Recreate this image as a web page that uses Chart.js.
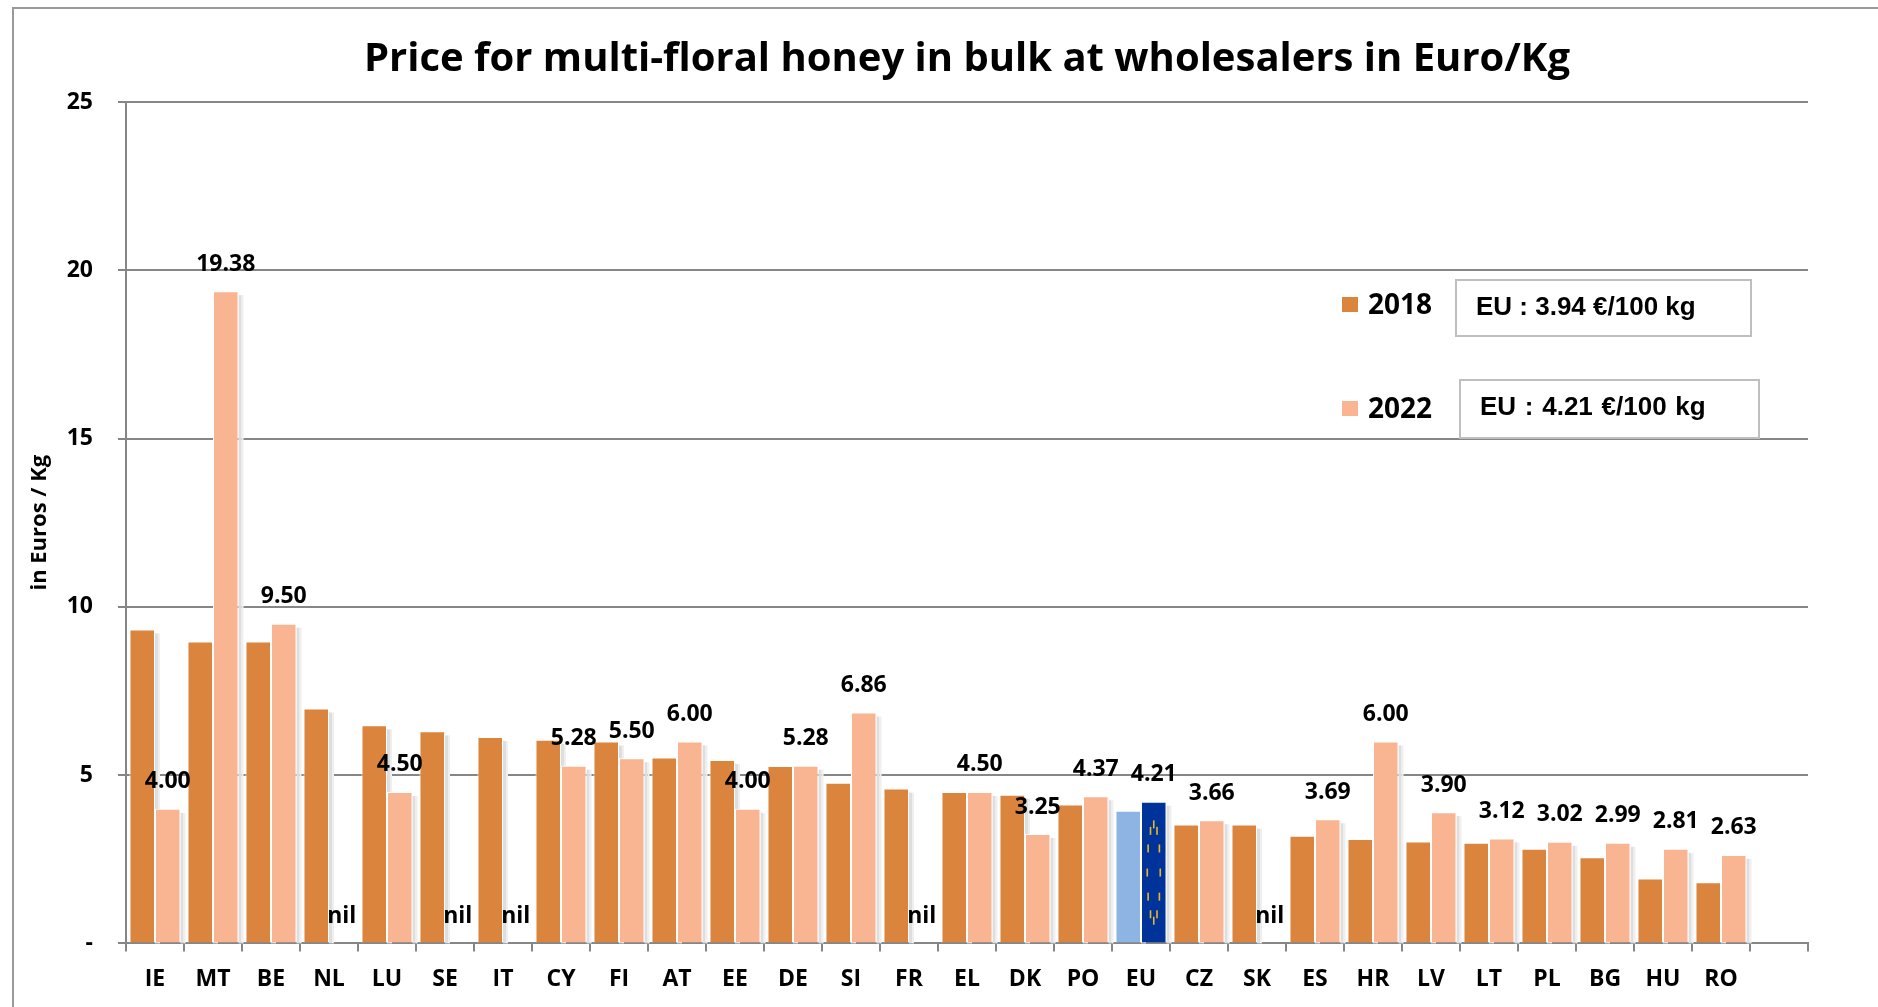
<!DOCTYPE html>
<html>
<head>
<meta charset="utf-8">
<title>Honey prices</title>
<script src="https://cdn.jsdelivr.net/npm/chart.js@4"></script>
<style>
    html, body { margin: 0; padding: 0; background: #fff; }
    #wrap { position: relative; width: 1878px; height: 1007px; overflow: hidden; }
    #frame { position: absolute; left: 12px; top: 7px; width: 1880px; height: 1020px; border: 2px solid #9a9a9a; }
    canvas { position: absolute; left: 0; top: 0; }
    .key { position: absolute; font: bold 28px "Open Sans", sans-serif; color: #000; line-height: 32px; }
    .swatch { position: absolute; width: 16px; height: 15px; }
    .box { position: absolute; box-sizing: border-box; background: #fff; border: 2px solid #bfbfbf;
           font: bold 26px "Liberation Sans", sans-serif; color: #000; white-space: pre; }
</style>
</head>
<body>
<div id="wrap">
    <div id="frame"></div>
    <canvas id="honeyChart" width="1878" height="1007"></canvas>
    <div class="swatch" id="swatch2018" style="left:1342px;top:297px"></div>
    <div class="key" style="left:1368px;top:287px">2018</div>
    <div class="box" style="left:1455px;top:279px;width:297px;height:58px;padding:10px 0 0 19px">EU : 3.94 €/100 kg</div>
    <div class="swatch" id="swatch2022" style="left:1342px;top:401px"></div>
    <div class="key" style="left:1368px;top:391px">2022</div>
    <div class="box" style="left:1459px;top:379px;width:301px;height:60px;padding:10px 0 0 19px;word-spacing:1.5px">EU : 4.21 €/100 kg</div>
</div>
<script>
// Values
const countries = ['IE', 'MT', 'BE', 'NL', 'LU', 'SE', 'IT', 'CY', 'FI', 'AT', 'EE', 'DE', 'SI', 'FR',
    'EL', 'DK', 'PO', 'EU', 'CZ', 'SK', 'ES', 'HR', 'LV', 'LT', 'PL', 'BG', 'HU', 'RO', ''];
const prices2018 = [9.33, 8.97, 8.97, 6.98, 6.48, 6.30, 6.13, 6.05, 6.00, 5.52, 5.45, 5.27, 4.77, 4.60,
    4.50, 4.42, 4.13, 3.94, 3.53, 3.53, 3.20, 3.10, 3.03, 2.99, 2.81, 2.56, 1.93, 1.82, null];
const prices2022 = [4.00, 19.38, 9.50, null, 4.50, null, null, 5.28, 5.50, 6.00, 4.00, 5.28, 6.86, null,
    4.50, 3.25, 4.37, 4.21, 3.66, null, 3.69, 6.00, 3.90, 3.12, 3.02, 2.99, 2.81, 2.63, null];
const yTicks = [0, 5, 10, 15, 20, 25];

const color2018 = '#DB843D';
const color2022 = '#F9B591';
const colorEu2018 = '#8EB4E3';
const colorEu2022 = '#003399';
const lineGrey = '#868686';
const euIndex = countries.indexOf('EU');
const labelFont = '"Open Sans", sans-serif';

document.getElementById('swatch2018').style.background = color2018;
document.getElementById('swatch2022').style.background = color2022;

// Pale grey strip to the right of every bar, painted under the bars
const barShadow = {
    id: 'barShadow',
    beforeDatasetsDraw(chart) {
        const ctx = chart.ctx;
        const base = chart.scales.y.getPixelForValue(0);
        ctx.save();
        [0, 1].forEach(d => {
            chart.getDatasetMeta(d).data.forEach((bar, i) => {
                const v = d === 0 ? prices2018[i] : prices2022[i];
                if (v === null) return;
                const right = bar.x + bar.width / 2;
                const top = bar.y + 4;
                ctx.fillStyle = '#dedede';
                ctx.fillRect(right, top, 3, base - top);
                ctx.fillStyle = '#efefef';
                ctx.fillRect(right + 3, top, 2, base - top);
            });
        });
        ctx.restore();
    }
};

// EU flag stars on the 2022 EU bar and the value labels above the 2022 bars
const barExtras = {
    id: 'barExtras',
    afterDatasetsDraw(chart) {
        const ctx = chart.ctx;
        const y = chart.scales.y;
        const bars = chart.getDatasetMeta(1).data;

        const eu = bars[euIndex];
        const cx = eu.x;
        const top = eu.y;
        const bottom = y.getPixelForValue(0);
        const cy = (top + bottom) / 2;
        ctx.save();
        ctx.fillStyle = '#E8B923';
        for (let i = 0; i < 12; i++) {
            const a = i * Math.PI / 6;
            const sx = cx + Math.sin(a) * 6.5;
            const sy = cy - Math.cos(a) * (bottom - top) * 0.34;
            ctx.fillRect(sx - 0.8, sy - 4, 1.6, 8);
        }
        ctx.restore();

        ctx.save();
        ctx.font = 'bold 23px ' + labelFont;
        ctx.fillStyle = '#000';
        ctx.textAlign = 'center';
        ctx.textBaseline = 'middle';
        prices2022.forEach((v, i) => {
            if (!countries[i]) return;
            const text = v === null ? 'nil' : v.toFixed(2);
            ctx.fillText(text, bars[i].x, y.getPixelForValue(v === null ? 0 : v) - 27);
        });
        ctx.restore();
    }
};

new Chart(document.getElementById('honeyChart').getContext('2d'), {
    type: 'bar',
    data: {
        labels: countries,
        datasets: [{
            label: '2018',
            data: prices2018,
            backgroundColor: countries.map((c, i) => i === euIndex ? colorEu2018 : color2018),
            borderColor: '#fff',
            borderWidth: 1
        }, {
            label: '2022',
            data: prices2022,
            backgroundColor: countries.map((c, i) => i === euIndex ? colorEu2022 : color2022),
            borderColor: '#fff',
            borderWidth: 1
        }]
    },
    options: {
        responsive: false,
        animation: false,
        categoryPercentage: 0.88,
        barPercentage: 1,
        layout: { padding: { left: 27, right: 70, top: 0, bottom: 0 } },
        plugins: {
            legend: { display: false },
            tooltip: { enabled: false },
            title: {
                display: true,
                text: 'Price for multi-floral honey in bulk at wholesalers in Euro/Kg',
                fullSize: false,
                color: '#000',
                font: { family: labelFont, size: 40, weight: 'bold' },
                padding: { top: 36, bottom: 18 }
            }
        },
        scales: {
            x: {
                offset: true,
                grid: { drawOnChartArea: false, color: lineGrey, tickLength: 8, lineWidth: 2 },
                border: { color: lineGrey, width: 2 },
                ticks: {
                    color: '#000',
                    font: { family: labelFont, size: 23, weight: 'bold' },
                    padding: 14,
                    maxRotation: 0,
                    autoSkip: false
                }
            },
            y: {
                min: 0,
                max: 25,
                afterBuildTicks(axis) {
                    axis.ticks = yTicks.map(v => ({ value: v }));
                },
                afterFit(axis) {
                    axis.width = 99;
                },
                grid: { color: lineGrey, tickLength: 8, lineWidth: 2 },
                border: { color: lineGrey, width: 2 },
                title: {
                    display: true,
                    text: 'in Euros / Kg',
                    color: '#000',
                    font: { family: labelFont, size: 22, weight: 'bold' },
                    padding: 0
                },
                ticks: {
                    color: '#000',
                    font: { family: labelFont, size: 23, weight: 'bold' },
                    padding: 25,
                    callback: v => v === 0 ? '-' : String(v)
                }
            }
        }
    },
    plugins: [barShadow, barExtras]
});
</script>
</body>
</html>
